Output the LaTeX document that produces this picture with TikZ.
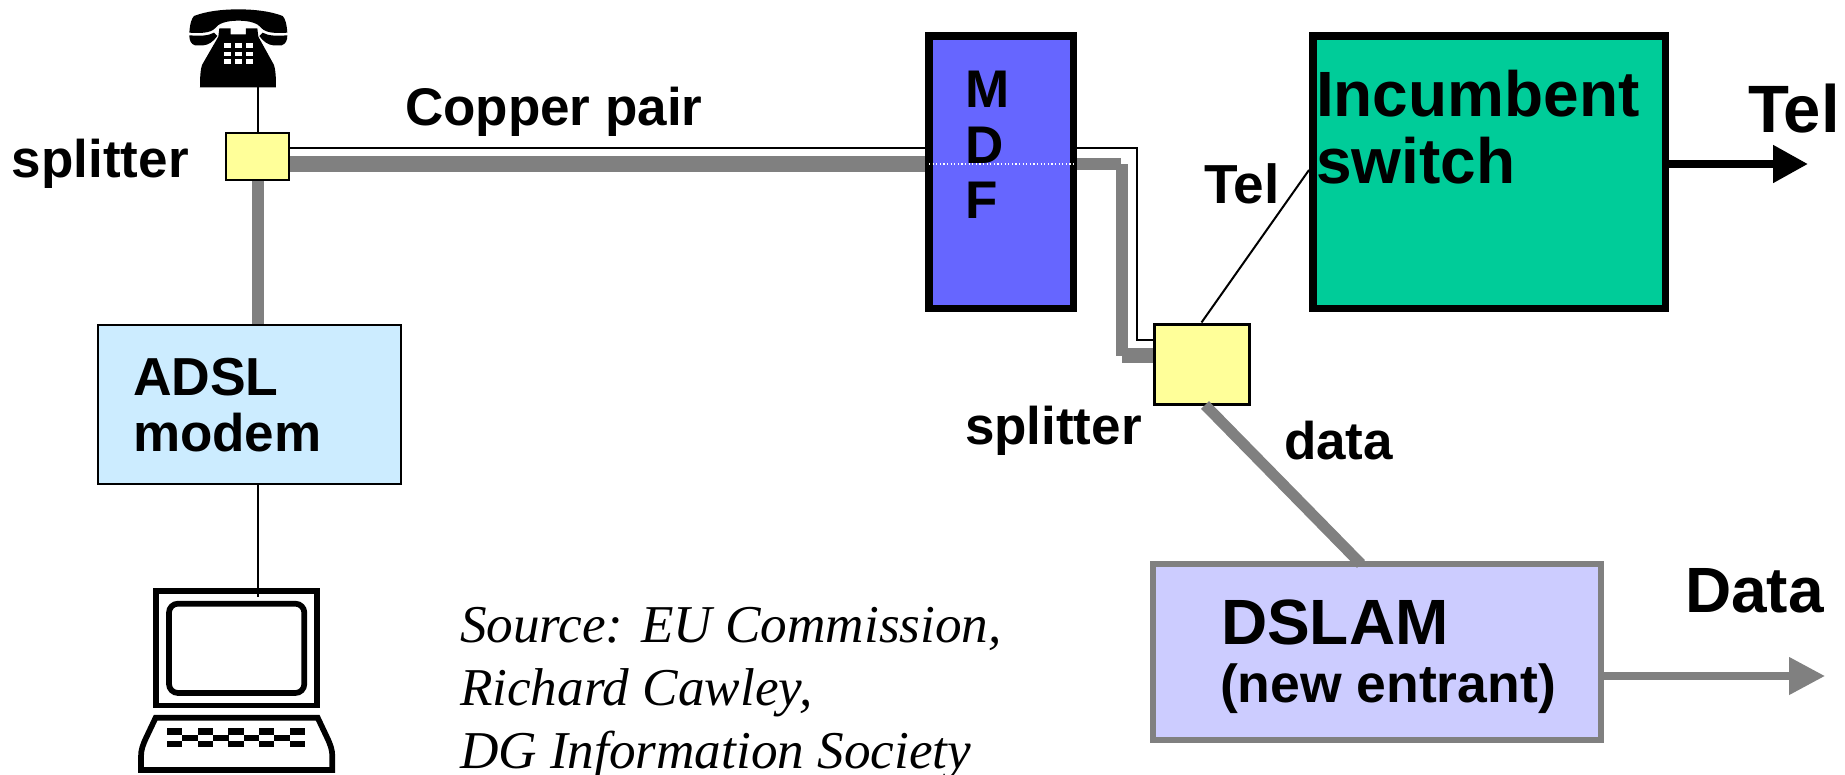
\documentclass[tikz,border=0pt]{standalone}
\usepackage{fontspec}
\setmainfont{Liberation Sans}
\newfontfamily\srcfont{Liberation Serif}
\usetikzlibrary{arrows.meta}
\definecolor{wiregrey}{HTML}{808080}
\definecolor{splitcol}{HTML}{FFFF99}
\definecolor{modemcol}{HTML}{CCECFF}
\definecolor{mdfcol}{HTML}{6666FF}
\definecolor{switchcol}{HTML}{00CC99}
\definecolor{dslamcol}{HTML}{CCCCFF}
\newcommand{\szf}[1]{\fontsize{#1}{#1}\selectfont}
\tikzset{
  x=1pt,y=-1pt,
  box/.style={rectangle,draw,inner sep=0pt},
  lbl/.style={inner sep=0pt,outer sep=0pt,anchor=base west,font=\bfseries},
  thin wire/.style={draw=black,line width=2pt},
  thick wire/.style={draw=wiregrey,line width=12pt},
  keyblock/.style={fill=black},
}
\begin{document}
\begin{tikzpicture}
\path[use as bounding box,fill=white] (0,0) rectangle (1845,774);

% boxes
\node[box,line width=2pt,fill=splitcol,minimum width=63pt,minimum height=47pt] (split1) at (257.5,156.5) {};
\node[box,line width=2pt,fill=modemcol,minimum width=303pt,minimum height=159pt] (modem) at (249.5,404.5) {};
\node[box,line width=7.5pt,fill=mdfcol,minimum width=144.5pt,minimum height=272.5pt] (mdf) at (1001,172) {};
\node[box,line width=7.5pt,fill=switchcol,minimum width=352.5pt,minimum height=272.5pt] (switch) at (1489,172) {};
\node[box,line width=3pt,fill=splitcol,minimum width=95pt,minimum height=80pt] (split2) at (1201.5,364) {};
\node[box,line width=6pt,draw=wiregrey,fill=dslamcol,minimum width=448pt,minimum height=176pt] (dslam) at (1377,652) {};

% invisible frames of the two pictograms
\node[inner sep=0pt,outer sep=0pt,minimum width=98pt,minimum height=78pt] (phone) at (238,48) {};
\node[inner sep=0pt,outer sep=0pt,minimum width=167pt,minimum height=120pt] (laptop) at (236.5,648) {};
\coordinate (lapin) at (257.5,597);
\coordinate (telout) at (1808,164);
\coordinate (dataout) at (1825,676);

% telephone
\begin{scope}[x=0.33333pt,y=-0.33333pt]
  \fill (568,98) .. controls (570,70) and (575,55) .. (582,48)
    .. controls (620,33) and (670,28) .. (715,28)
    .. controls (760,28) and (810,33) .. (848,48)
    .. controls (855,55) and (860,70) .. (862,98)
    .. controls (830,100) and (800,100) .. (785,85)
    .. controls (775,70) and (750,62) .. (715,62)
    .. controls (680,62) and (655,70) .. (645,85)
    .. controls (630,100) and (600,100) .. cycle;
  \fill (568,106) .. controls (600,108) and (625,108) .. (642,98)
    -- (652,108) .. controls (640,125) and (625,135) .. (610,136)
    -- (585,136) .. controls (572,132) and (568,120) .. cycle;
  \fill (862,106) .. controls (830,108) and (805,108) .. (788,98)
    -- (778,108) .. controls (790,125) and (805,135) .. (820,136)
    -- (845,136) .. controls (858,132) and (862,120) .. cycle;
  \fill (658,85) -- (692,85) -- (692,103) -- (738,103) -- (738,85) -- (772,85)
    -- (775,110) -- (822,195) .. controls (827,210) and (828,235) .. (828,262)
    -- (600,262) .. controls (600,235) and (601,210) .. (606,195)
    -- (655,110) -- cycle;
  \foreach \yy in {130,155,178}{
    \foreach \xx in {672,705,738}{
      \fill[white] (\xx,\yy) rectangle ++(20,14);
    }
  }
\end{scope}

% laptop
\begin{scope}[shift={(100,470)},x=0.33333pt,y=-0.33333pt]
  \draw[line width=5.7pt] (168.5,363.5) rectangle (651.5,706.5);
  \draw[line width=5.7pt,rounded corners=9pt] (207,401) rectangle (613,669);
  \draw[line width=5.7pt,line join=miter] (167,743) -- (653,743)
    -- (680,800) .. controls (692,825) and (697,840) .. (697,860)
    -- (697,900) -- (123,900) -- (123,860)
    .. controls (123,840) and (128,825) .. (140,800) -- cycle;
  \foreach \xx in {200,293,385,477,570}{
    \fill[keyblock] (\xx,775) rectangle ++(46,20);
    \fill[keyblock] (\xx,812) rectangle ++(46,18);
  }
  \foreach \xx in {246,339,431,523}{
    \fill[keyblock] (\xx,795) rectangle ++(47,17);
  }
\end{scope}

% connectors
\draw[thin wire] (split1.north) -- (split1.north |- phone.south);
\draw[thick wire] (split1.south) -- (split1.south |- modem.north);
\draw[thin wire] (split1.south |- modem.south) -- (lapin);
\coordinate (c1) at (split1.east |- 0,148);
\coordinate (c2) at (mdf.west |- 0,148);
\draw[thin wire] (c1) -- (c2);
\coordinate (c3) at (split1.east |- 0,164);
\coordinate (c4) at (mdf.west |- 0,164);
\draw[draw=wiregrey,line width=16pt] (c3) -- (c4);
\coordinate (c5) at (mdf.east |- 0,148);
\coordinate (c6) at (1137,148);
\coordinate (c7) at (1137,340);
\coordinate (c8) at (split2.west |- 0,340);
\draw[thin wire,line join=miter] (c5) -- (c6) -- (c7) -- (c8);
\coordinate (c9) at (mdf.east |- 0,164);
\coordinate (c10) at (1121,164);
\coordinate (c11) at (1121.5,164);
\coordinate (c12) at (1121.5,356);
\coordinate (c13) at (1122,355.5);
\coordinate (c14) at (split2.west |- 0,355.5);
\draw[thick wire] (c9) -- (c10);
\draw[thick wire] (c11) -- (c12);
\draw[draw=wiregrey,line width=15pt] (c13) -- (c14);
\draw[white,line width=1.2pt,dash pattern=on 1.2pt off 2.4pt] (929,164) -- (1075,164);
\coordinate (c15) at (switch.west |- 0,170);
\draw[thin wire] (split2.north) -- (c15);
\coordinate (c16) at (1205,405);
\coordinate (c17) at (1361,564);
\draw[draw=wiregrey,line width=11pt] (c16) -- (c17);
\draw[line width=8pt,-{Triangle[length=35pt,width=36pt]}] (switch.east |- telout) -- (telout);
\draw[draw=wiregrey,line width=7.5pt,-{Triangle[length=36pt,width=36pt]},wiregrey] (dslam.east |- dataout) -- (dataout);

% labels
\node[lbl] (lsplit1) at (12,177) {\szf{53}splitter};
\node[lbl] (lcopper) at (405,125) {\szf{53}Copper pair};
\node[lbl] (ladsl) at (133,395) {\szf{53.5}ADSL};
\node[lbl] (lmodem) at (133,451) {\szf{53}modem};
\node[lbl] (lm) at (965,107) {\szf{53}M};
\node[lbl] (ld) at (965,163) {\szf{53}D};
\node[lbl] (lf) at (965,218) {\szf{53}F};
\node[lbl] (lincumbent) at (1316,116) {\szf{64}Incumbent};
\node[lbl] (lswitch) at (1316,183) {\szf{64}switch};
\node[lbl] (ltel1) at (1204,203) {\szf{55}Tel};
\node[lbl] (ltel2) at (1748,132) {\szf{67}Tel};
\node[lbl] (lsplit2) at (965,444) {\szf{53}splitter};
\node[lbl] (ldata1) at (1284,459) {\szf{53}data};
\node[lbl] (ldslam) at (1221,644) {\szf{64}DSLAM};
\node[lbl] (lnew) at (1220,702) {\szf{53.5}(new entrant)};
\node[lbl] (ldata2) at (1685,612) {\szf{64}Data};
\node[lbl,font=\srcfont\itshape] (ls1) at (460,642) {\szf{53.2}Source: EU Commission,};
\node[lbl,font=\srcfont\itshape] (ls2) at (460,705) {\szf{53.2}Richard Cawley,};
\node[lbl,font=\srcfont\itshape] (ls3) at (460,768) {\szf{53.2}DG Information Society};
\end{tikzpicture}
\end{document}
